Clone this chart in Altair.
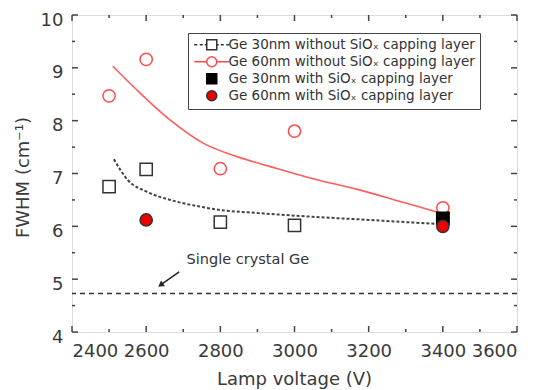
import altair as alt
import pandas as pd

# ---------------- data ----------------
S1 = "Ge 30nm without SiOₓ capping layer"
S2 = "Ge 60nm without SiOₓ capping layer"
S3 = "Ge 30nm with SiOₓ capping layer"
S4 = "Ge 60nm with SiOₓ capping layer"
series_names = [S1, S2, S3, S4]

v_30_without = [2500, 2600, 2800, 3000, 3400]
f_30_without = [6.75, 7.08, 6.08, 6.02, 6.15]
v_60_without = [2500, 2600, 2800, 3000, 3400]
f_60_without = [8.47, 9.16, 7.09, 7.80, 6.35]
v_30_with = [3400]
f_30_with = [6.15]
v_60_with = [2600, 3400]
f_60_with = [6.12, 6.00]

fit60_v = [2510, 2575, 2665, 2755, 2840, 2935, 3050, 3175, 3290, 3400]
fit60_f = [9.03, 8.58, 8.01, 7.57, 7.33, 7.13, 6.90, 6.69, 6.46, 6.24]
fit30_v = [2513, 2550, 2600, 2665, 2740, 2800, 2905, 3050, 3180, 3300, 3400]
fit30_f = [7.27, 6.88, 6.66, 6.50, 6.38, 6.31, 6.25, 6.18, 6.13, 6.08, 6.04]

single_crystal = 4.73
note_text = ["Single crystal Ge"]
note_v = [2709]
note_f = [5.36]
arrow_v = [2689, 2639]
arrow_f = [5.14, 4.89]

x_major = [2400, 2600, 2800, 3000, 3200, 3400, 3600]
x_minor = [2500, 2700, 2900, 3100, 3300, 3500]
y_major = [4, 5, 6, 7, 8, 9, 10]
y_minor = [4.5, 5.5, 6.5, 7.5, 8.5, 9.5]
X_MIN, X_MAX = 2400, 3600
Y_MIN, Y_MAX = 4, 10

# ---------------- tables ----------------
rows = []
for s, vs, fs in [(S1, v_30_without, f_30_without), (S2, v_60_without, f_60_without),
                  (S3, v_30_with, f_30_with), (S4, v_60_with, f_60_with)]:
    for v, f in zip(vs, fs):
        rows.append({"series": s, "v": v, "f": f})
pts = pd.DataFrame(rows)
fit60 = pd.DataFrame({"v": fit60_v, "f": fit60_f})
fit30 = pd.DataFrame({"v": fit30_v, "f": fit30_f})
crystal = pd.DataFrame({"f": [single_crystal]})
note = pd.DataFrame({"t": note_text, "v": note_v, "f": note_f})
arrow = pd.DataFrame({"v": arrow_v, "f": arrow_f, "o": [0, 1]})
head = pd.DataFrame({"v": arrow_v[-1:], "f": arrow_f[-1:]})
leg = pd.DataFrame({"series": series_names})

FONT = "DejaVu Sans"
W, H = 445, 317
xs = alt.Scale(domain=[X_MIN, X_MAX], nice=False)
ys = alt.Scale(domain=[Y_MIN, Y_MAX], nice=False)
TICK_C = "#444444"

# one shared axis definition, given identically to every layer
AX_X = alt.Axis(orient="bottom", values=x_major, ticks=False, domain=False, grid=False,
                labelPadding=10, labelFontSize=18, labelFont=FONT, labelColor="#3a3a3a",
                title="Lamp voltage (V)", titleFont=FONT, titleFontSize=18,
                titleFontWeight="normal", titleColor="#3a3a3a", titleX=222, titleY=47,
                titleBaseline="middle", format="d")
AX_Y = alt.Axis(orient="left", values=y_major, ticks=False, domain=False, grid=False,
                labelPadding=9, labelFontSize=18, labelFont=FONT, labelColor="#3a3a3a",
                labelOffset=5, title="FWHM (cm⁻¹)", titleFont=FONT, titleFontSize=18,
                titleFontWeight="normal", titleColor="#3a3a3a", titleX=-49, titleY=162,
                titleBaseline="middle", titleAngle=-90)


def X(field="v:Q"):
    return alt.X(field, scale=xs, axis=AX_X)


def Y(field="f:Q"):
    return alt.Y(field, scale=ys, axis=AX_Y)


def x_ticks(values, at, length, inward):
    # ticks along a horizontal edge, placed through the scales, pointing into the plot
    return alt.Chart(pd.DataFrame({"v": values})).mark_tick(
        orient="vertical", size=length, thickness=1.5, color=TICK_C, opacity=1,
        yOffset=inward * length / 2).encode(
        x=X(), y=alt.Y(datum=at, scale=ys, axis=AX_Y))


def y_ticks(values, at, length, inward):
    return alt.Chart(pd.DataFrame({"f": values})).mark_tick(
        orient="horizontal", size=length, thickness=1.5, color=TICK_C, opacity=1,
        xOffset=inward * length / 2).encode(
        x=alt.X(datum=at, scale=xs, axis=AX_X), y=Y())


tick_layers = [
    x_ticks(x_major, Y_MIN, 6, -1), x_ticks(x_minor, Y_MIN, 3, -1),
    x_ticks(x_major, Y_MAX, 6, 1), x_ticks(x_minor, Y_MAX, 3, 1),
    y_ticks(y_major, X_MIN, 6, 1), y_ticks(y_minor, X_MIN, 3, 1),
    y_ticks(y_major, X_MAX, 6, -1), y_ticks(y_minor, X_MAX, 3, -1),
]

points = alt.Chart(pts).mark_point(size=150, strokeWidth=1.5, opacity=1).encode(
    x=X(), y=Y(),
    shape=alt.Shape("series:N", scale=alt.Scale(domain=series_names,
                    range=["square", "circle", "square", "circle"]), legend=None),
    fill=alt.Fill("series:N", scale=alt.Scale(domain=series_names,
                  range=["white", "white", "black", "#ee0000"]), legend=None),
    stroke=alt.Stroke("series:N", scale=alt.Scale(domain=series_names,
                      range=["#333333", "#ff4a4a", "black", "#333333"]), legend=None),
)

line60 = alt.Chart(fit60).mark_line(color="#ff5c5c", strokeWidth=1.6,
                                    interpolate="monotone").encode(x=X(), y=Y())
line30 = alt.Chart(fit30).mark_line(color="#444444", strokeWidth=2, strokeDash=[3, 2],
                                    interpolate="monotone").encode(x=X(), y=Y())
crys = alt.Chart(crystal).mark_rule(color="#333333", strokeWidth=1.5,
                                    strokeDash=[5, 4]).encode(y=Y())
txt = alt.Chart(note).mark_text(align="left", baseline="middle", font=FONT, fontSize=14.5,
                                color="#333333").encode(x=X(), y=Y(), text="t:N")
arr = alt.Chart(arrow).mark_line(color="#222222", strokeWidth=1.5).encode(
    x=X(), y=Y(), order="o:Q")
arrhead = alt.Chart(head).mark_point(shape="triangle-up", angle=235, size=45, filled=True,
                                     color="#222222", opacity=1).encode(x=X(), y=Y())

P_SQ_DASH = ("M -3.5 0 H -2.9 M -2.4 0 H -1.8 M -1.4 0 H -1 M 1 0 H 1.4 M 1.8 0 H 2.4 "
             "M 2.9 0 H 3.5 M -1 -1 H 1 V 1 H -1 Z")
P_CI_LINE = ("M -3.5 0 H -1 M 1 0 H 3.5 M -1 0 A 1 1 0 1 0 1 0 A 1 1 0 1 0 -1 0 Z")
P_SQ = "M -1 -1 H 1 V 1 H -1 Z"
P_CI = "M -1 0 A 1 1 0 1 0 1 0 A 1 1 0 1 0 -1 0 Z"

legend_cfg = alt.Legend(orient="none", legendX=116, legendY=18, title=None, padding=5,
                        strokeColor="#444444", fillColor="white", labelFont=FONT,
                        labelFontSize=13.5, labelColor="#333333", labelLimit=400,
                        symbolSize=100, symbolStrokeWidth=1.5, symbolOffset=12,
                        symbolOpacity=1, labelOffset=10, rowPadding=0)
legend_layer = alt.Chart(leg).transform_filter("false").mark_point(
    strokeWidth=1.5, opacity=1).encode(
    shape=alt.Shape("series:N", scale=alt.Scale(domain=series_names,
                    range=[P_SQ_DASH, P_CI_LINE, P_SQ, P_CI]), legend=legend_cfg),
    fill=alt.Fill("series:N", scale=alt.Scale(domain=series_names,
                  range=["white", "white", "black", "#ee0000"]), legend=legend_cfg),
    stroke=alt.Stroke("series:N", scale=alt.Scale(domain=series_names,
                      range=["#333333", "#ff4a4a", "black", "#333333"]), legend=legend_cfg),
)

chart = alt.layer(*tick_layers, crys, line30, line60, txt, arr, arrhead, points,
                  legend_layer).resolve_scale(
    shape="independent", fill="independent", stroke="independent"
).properties(
    width=W, height=H,
    autosize=alt.AutoSizeParams(type="none"),
    padding={"left": 64, "top": 7, "right": 26, "bottom": 58},
).configure_view(stroke="#444444", strokeWidth=2).configure(background="white")

chart.save("out.html", embed_options={"renderer": "svg", "actions": False})
